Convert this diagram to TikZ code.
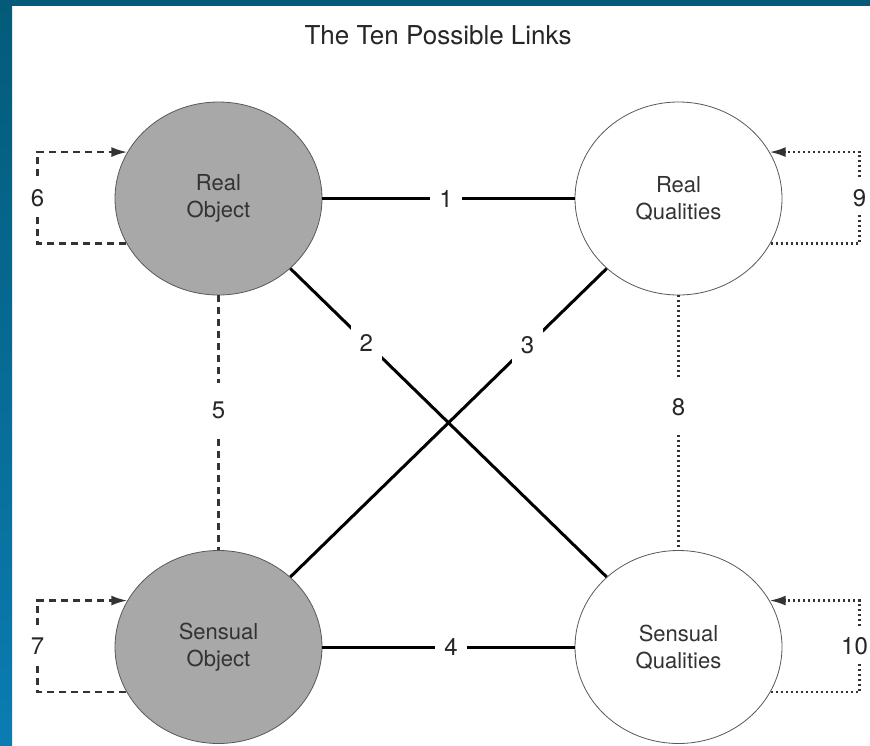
\documentclass[tikz,border=0pt]{standalone}
\usepackage{fontspec}
\setmainfont{TeX Gyre Heros}
\usetikzlibrary{shapes.geometric,arrows.meta}
\definecolor{slideblue}{HTML}{035B79}
\definecolor{slidelight}{HTML}{0B7CB2}
\definecolor{objgray}{HTML}{A8A8A8}
\tikzstyle{arrow} = [-{Latex[length=16pt,width=10pt]}]
\tikzstyle{circ} = [draw=black!65,line width=0.8pt,ellipse,minimum width=207pt,minimum height=193pt,inner sep=0pt,align=center,font=\fontsize{22}{27}\selectfont,text=black!80]
\tikzstyle{num} = [fill=white,inner sep=9pt,font=\fontsize{24}{24}\selectfont,text=black!85]
\tikzstyle{thicklink} = [line width=3pt,black]
\tikzstyle{dashlink} = [line width=2.2pt,black!80,dash pattern=on 7pt off 5pt]
\tikzstyle{dotlink} = [line width=2.2pt,black!80,dash pattern=on 2pt off 3pt]

\begin{document}
\begin{tikzpicture}[x=1pt,y=-1pt]
        \useasboundingbox (0,0) rectangle (870,745);
        \fill[white] (0,0) rectangle (870,745);
        \shade[top color=slideblue,bottom color=slidelight] (0,0) rectangle (12,745);
        \fill[slideblue] (0,0) rectangle (870,6);

        \node[font=\fontsize{26}{26}\selectfont,text=black!85,anchor=base] at (438,44) (title) {The Ten Possible Links};

        \node[circ, fill=objgray] at (218.5,198.5) (ro) {Real\\Object};
        \node[circ, fill=white] at (678.5,198.5) (rq) {Real\\Qualities};
        \node[circ, fill=objgray] at (218.5,647) (so) {Sensual\\Object};
        \node[circ, fill=white] at (678.5,647) (sq) {Sensual\\Qualities};

        \draw[thicklink] (ro) -- (rq) node[pos=0.49,num]{1};
        \draw[thicklink] (ro) -- (sq) node[pos=0.24,num]{2};
        \draw[thicklink] (rq) -- (so) node[pos=0.25,num]{3};
        \draw[thicklink] (so) -- (sq) node[pos=0.51,num]{4};
        \draw[dashlink] (ro) -- (so) node[pos=0.45,num,inner ysep=19pt]{5};
        \draw[dotlink] (rq) -- (sq) node[pos=0.44,num,inner ysep=19pt]{8};

        \draw[dashlink,arrow] (ro.206) -- ++(-89,0) |- node[pos=0.25,num]{6} (ro.153);
        \draw[dashlink,arrow] (so.206) -- ++(-89,0) |- node[pos=0.25,num]{7} (so.153);
        \draw[dotlink,arrow] (rq.334) -- ++(89,0) |- node[pos=0.25,num]{9} (rq.27);
        \draw[dotlink,arrow] (sq.334) -- ++(89,0) |- node[pos=0.25,num,inner xsep=3pt,xshift=-5pt]{10} (sq.27);
\end{tikzpicture}
\end{document}
